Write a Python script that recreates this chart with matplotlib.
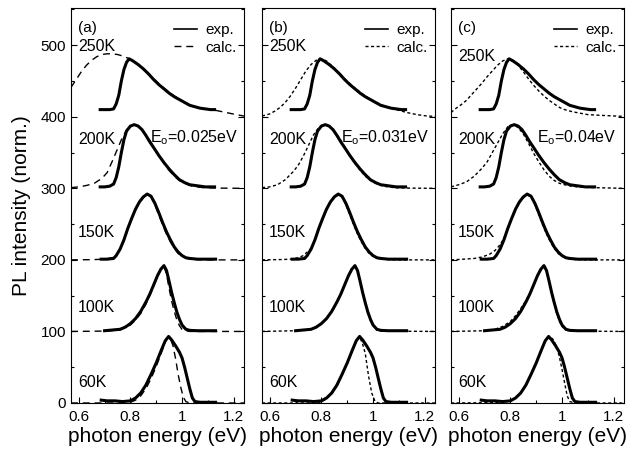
import matplotlib
matplotlib.use('Agg')
import matplotlib.pyplot as plt
from matplotlib.lines import Line2D
from matplotlib.ticker import MultipleLocator, FixedLocator, FuncFormatter

plt.rcParams['font.family'] = ['Liberation Sans', 'DejaVu Sans']
plt.rcParams['mathtext.fontset'] = 'custom'
plt.rcParams['mathtext.rm'] = 'Liberation Sans'

temps = ['60K', '100K', '150K', '200K', '250K']
offsets = [0, 100, 200, 300, 400]
panel_tags = ['(a)', '(b)', '(c)']
e0_labels = ['E$_\\mathregular{o}$=0.025eV', 'E$_\\mathregular{o}$=0.031eV', 'E$_\\mathregular{o}$=0.04eV']

# experimental spectra (same data in all three panels), intensity above baseline
e_exp_60 = [0.687, 0.71, 0.74, 0.77, 0.80, 0.82, 0.84, 0.86, 0.88, 0.90, 0.92, 0.935, 0.948, 0.96, 0.975, 0.99, 1.0, 1.01, 1.02, 1.03, 1.04, 1.05, 1.07, 1.13]
i_exp_60 = [4, 3, 3, 2, 3, 7, 14, 25, 40, 56, 74, 87, 93, 88, 80, 71, 63, 50, 35, 20, 7, 2, 1, 1]
e_exp_100 = [0.70, 0.73, 0.76, 0.78, 0.80, 0.82, 0.84, 0.86, 0.875, 0.89, 0.905, 0.918, 0.93, 0.94, 0.95, 0.96, 0.97, 0.98, 0.99, 1.0, 1.015, 1.03, 1.06, 1.13]
i_exp_100 = [1, 2, 3, 6, 11, 18, 28, 41, 52, 65, 78, 87, 92, 85, 70, 54, 40, 27, 17, 9, 3, 1.5, 1, 1]
e_exp_150 = [0.687, 0.71, 0.735, 0.745, 0.76, 0.775, 0.79, 0.805, 0.82, 0.835, 0.85, 0.865, 0.88, 0.895, 0.91, 0.925, 0.94, 0.955, 0.97, 0.985, 1.0, 1.015, 1.03, 1.06, 1.13]
i_exp_150 = [1, 1, 2, 6, 15, 28, 44, 58, 71, 81, 88, 92, 89, 79, 66, 52, 39, 28, 18, 11, 6, 3, 2, 1, 1]
e_exp_200 = [0.683, 0.70, 0.72, 0.735, 0.745, 0.755, 0.765, 0.775, 0.785, 0.80, 0.815, 0.83, 0.845, 0.86, 0.875, 0.89, 0.91, 0.93, 0.95, 0.97, 0.99, 1.01, 1.03, 1.05, 1.07, 1.09, 1.11, 1.126]
i_exp_200 = [2, 2, 3, 6, 15, 30, 50, 68, 80, 87, 89, 87, 82, 74, 65, 57, 46, 36, 27, 19, 12, 8, 5, 4, 3, 2, 2, 2]
e_exp_250 = [0.683, 0.70, 0.72, 0.735, 0.745, 0.755, 0.765, 0.775, 0.785, 0.795, 0.81, 0.83, 0.85, 0.87, 0.89, 0.91, 0.93, 0.95, 0.97, 0.99, 1.01, 1.03, 1.05, 1.07, 1.09, 1.11, 1.126]
i_exp_250 = [10, 10, 10, 11, 18, 30, 50, 66, 76, 81, 78, 73, 67, 60, 52, 45, 39, 33, 28, 24, 20, 16, 14, 12, 11, 10, 10]

# calculated spectra, panel (a) Eo=0.025eV
e_a_60 = [0.57, 0.78, 0.80, 0.82, 0.84, 0.86, 0.88, 0.90, 0.92, 0.935, 0.945, 0.955, 0.965, 0.975, 0.985, 0.995, 1.005, 1.015, 1.03, 1.24]
i_a_60 = [0, 0, 1, 4, 10, 20, 34, 51, 70, 85, 92, 90, 80, 62, 40, 22, 8, 2, 0, 0]
e_a_100 = [0.57, 0.70, 0.76, 0.80, 0.82, 0.84, 0.86, 0.875, 0.89, 0.905, 0.92, 0.93, 0.94, 0.95, 0.96, 0.97, 0.98, 0.99, 1.0, 1.01, 1.03, 1.24]
i_a_100 = [0, 0.5, 2, 9, 16, 25, 38, 50, 63, 77, 90, 91, 80, 60, 42, 28, 16, 8, 3, 1, 0, 0]
e_a_150 = [0.57, 0.65, 0.70, 0.73, 0.75, 0.76, 0.775, 0.79, 0.805, 0.82, 0.835, 0.85, 0.865, 0.88, 0.895, 0.91, 0.925, 0.94, 0.955, 0.97, 0.985, 1.0, 1.02, 1.05, 1.1, 1.24]
i_a_150 = [0, 0.3, 1, 3, 8, 14, 27, 43, 57, 70, 80, 87, 91, 88, 77, 63, 49, 36, 25, 16, 9, 5, 2, 0.5, 0, 0]
e_a_200 = [0.57, 0.60, 0.63, 0.66, 0.69, 0.71, 0.73, 0.75, 0.77, 0.79, 0.81, 0.83, 0.85, 0.87, 0.89, 0.91, 0.93, 0.95, 0.97, 0.99, 1.01, 1.04, 1.08, 1.14, 1.24]
i_a_200 = [1, 2, 4, 7, 14, 22, 38, 55, 72, 84, 89, 87, 80, 70, 58, 46, 35, 25, 17, 11, 7, 3, 1, 0.3, 0]
e_a_250 = [0.57, 0.59, 0.61, 0.63, 0.65, 0.67, 0.69, 0.71, 0.73, 0.75, 0.77, 0.79, 0.81, 0.85, 0.89, 0.93, 0.97, 1.01, 1.05, 1.09, 1.13, 1.17, 1.21, 1.24]
i_a_250 = [41, 52, 63, 72, 79, 84, 87, 88, 88, 87, 85, 82, 78, 67, 53, 40, 29, 20, 14, 11, 9, 6, 3, 1]

# panel (b) Eo=0.031eV
e_b_60 = [0.57, 0.78, 0.80, 0.82, 0.84, 0.86, 0.88, 0.90, 0.92, 0.935, 0.948, 0.96, 0.97, 0.983, 0.995, 1.008, 1.02, 1.24]
i_b_60 = [0, 0, 2, 6, 13, 24, 39, 55, 73, 86, 93, 82, 69, 37, 14, 2, 0, 0]
e_b_100 = [0.57, 0.70, 0.76, 0.80, 0.82, 0.84, 0.86, 0.875, 0.89, 0.905, 0.918, 0.93, 0.94, 0.95, 0.96, 0.97, 0.98, 0.99, 1.0, 1.015, 1.03, 1.24]
i_b_100 = [0, 1, 3, 11, 18, 28, 41, 52, 65, 78, 87, 91, 85, 70, 54, 39, 26, 15, 8, 2, 0.5, 0]
e_b_150 = [0.57, 0.65, 0.68, 0.71, 0.73, 0.745, 0.76, 0.775, 0.79, 0.805, 0.82, 0.835, 0.85, 0.865, 0.88, 0.895, 0.91, 0.925, 0.94, 0.955, 0.97, 0.985, 1.0, 1.02, 1.05, 1.1, 1.24]
i_b_150 = [0, 0.5, 1, 3, 6, 11, 16, 27, 43, 57, 70, 80, 87, 91, 88, 77, 63, 49, 36, 25, 16, 9, 5, 2, 0.5, 0, 0]
e_b_200 = [0.57, 0.60, 0.63, 0.66, 0.69, 0.71, 0.73, 0.75, 0.77, 0.79, 0.81, 0.83, 0.85, 0.87, 0.89, 0.91, 0.93, 0.95, 0.97, 0.99, 1.01, 1.04, 1.08, 1.14, 1.24]
i_b_200 = [1, 2, 5, 12, 23, 32, 45, 60, 75, 85, 89, 87, 80, 70, 58, 46, 35, 25, 17, 11, 7, 3, 1, 0.3, 0]
e_b_250 = [0.57, 0.60, 0.62, 0.64, 0.66, 0.68, 0.70, 0.72, 0.74, 0.76, 0.78, 0.80, 0.82, 0.85, 0.89, 0.93, 0.97, 1.01, 1.05, 1.09, 1.13, 1.17, 1.21, 1.24]
i_b_250 = [1, 4, 8, 13, 20, 29, 40, 52, 64, 73, 79, 81, 78, 68, 53, 40, 29, 20, 14, 10, 6, 3, 1, 0.5]

# panel (c) Eo=0.04eV
e_c_60 = [0.57, 0.76, 0.80, 0.82, 0.84, 0.86, 0.88, 0.90, 0.92, 0.935, 0.952, 0.965, 0.98, 0.99, 1.0, 1.01, 1.02, 1.03, 1.05, 1.24]
i_c_60 = [0, 0.5, 3, 7, 14, 25, 40, 56, 74, 87, 93, 89, 78, 64, 47, 28, 10, 2, 0, 0]
e_c_100 = [0.57, 0.70, 0.74, 0.77, 0.80, 0.82, 0.84, 0.86, 0.875, 0.89, 0.905, 0.918, 0.93, 0.94, 0.95, 0.96, 0.97, 0.98, 0.99, 1.0, 1.015, 1.03, 1.24]
i_c_100 = [0, 1, 3, 7, 14, 22, 32, 43, 53, 65, 78, 87, 91, 85, 70, 53, 38, 25, 14, 7, 2, 0.5, 0]
e_c_150 = [0.57, 0.62, 0.66, 0.69, 0.72, 0.74, 0.755, 0.77, 0.785, 0.805, 0.82, 0.835, 0.85, 0.865, 0.88, 0.895, 0.91, 0.925, 0.94, 0.955, 0.97, 0.985, 1.0, 1.02, 1.05, 1.1, 1.24]
i_c_150 = [0, 1, 2, 4, 8, 13, 19, 27, 38, 57, 70, 80, 87, 91, 88, 77, 63, 49, 36, 25, 16, 9, 5, 2, 0.5, 0, 0]
e_c_200 = [0.57, 0.60, 0.63, 0.66, 0.69, 0.71, 0.73, 0.75, 0.77, 0.79, 0.81, 0.83, 0.85, 0.87, 0.89, 0.91, 0.93, 0.95, 0.97, 0.99, 1.02, 1.06, 1.12, 1.24]
i_c_200 = [2, 5, 9, 17, 28, 37, 50, 63, 76, 86, 89, 85, 76, 63, 49, 37, 26, 17, 11, 7, 4, 2, 1, 0]
e_c_250 = [0.57, 0.59, 0.61, 0.63, 0.65, 0.67, 0.69, 0.71, 0.73, 0.75, 0.77, 0.79, 0.81, 0.83, 0.85, 0.87, 0.89, 0.91, 0.93, 0.95, 0.97, 0.99, 1.01, 1.04, 1.07, 1.10, 1.15, 1.24]
i_c_250 = [6, 12, 17, 23, 31, 39, 47, 56, 64, 72, 78, 81, 79, 72, 63, 53, 44, 36, 29, 23, 18, 13, 10, 7, 5, 3, 2, 0.5]

exp_curves = [(e_exp_60, i_exp_60), (e_exp_100, i_exp_100), (e_exp_150, i_exp_150),
              (e_exp_200, i_exp_200), (e_exp_250, i_exp_250)]
calc_curves = [
    [(e_a_60, i_a_60), (e_a_100, i_a_100), (e_a_150, i_a_150), (e_a_200, i_a_200), (e_a_250, i_a_250)],
    [(e_b_60, i_b_60), (e_b_100, i_b_100), (e_b_150, i_b_150), (e_b_200, i_b_200), (e_b_250, i_b_250)],
    [(e_c_60, i_c_60), (e_c_100, i_c_100), (e_c_150, i_c_150), (e_c_200, i_c_200), (e_c_250, i_c_250)],
]
dashes = [(5, 3.5), (2.2, 1.8), (2.2, 1.8)]
label_y = [29, 134, 238, 368, 498]
label_y_c = [29, 134, 238, 368, 484]
e0_x = [0.876, 0.876, 0.902]

fig = plt.figure(figsize=(6.26, 4.51), dpi=100)
lefts = [71 / 626, 262 / 626, 451 / 626]
bottom = 1 - 403 / 451
height = (403 - 8) / 451
width = 173 / 626

for p in range(3):
    ax = fig.add_axes([lefts[p], bottom, width, height])
    for k in range(5):
        e, i = exp_curves[k]
        ax.plot(e, [v + offsets[k] for v in i], color='black', lw=2.2, solid_joinstyle='round')
        e, i = calc_curves[p][k]
        ax.plot(e, [v + offsets[k] for v in i], color='black', lw=1.0, linestyle=(0, dashes[p]))
        ly = label_y_c[k] if p == 2 else label_y[k]
        ax.text(0.04, ly, temps[k], transform=ax.get_yaxis_transform(), fontsize=11.5,
                ha='left', va='center')
    ax.text(0.04, 0.95, panel_tags[p], transform=ax.transAxes, fontsize=11, ha='left', va='center')
    ax.text(e0_x[p], 371, e0_labels[p], fontsize=11.5, ha='left', va='center')

    handles = [Line2D([], [], color='black', lw=1.2),
               Line2D([], [], color='black', lw=1.0, linestyle=(0, dashes[p]))]
    ax.legend(handles, ['exp.', 'calc.'], loc='upper right', bbox_to_anchor=(0.99, 0.977),
              frameon=False, fontsize=11, handlelength=1.5, handletextpad=0.55,
              labelspacing=0.22, borderaxespad=0.2, borderpad=0.2)

    ax.set_xlim(0.57, 1.24)
    ax.set_ylim(0, 552)
    ax.xaxis.set_major_locator(FixedLocator([0.6, 0.8, 1.0, 1.2]))
    ax.xaxis.set_minor_locator(FixedLocator([0.7, 0.9, 1.1]))
    ax.xaxis.set_major_formatter(FuncFormatter(lambda v, pos: f'{v:g}'))
    ax.yaxis.set_major_locator(MultipleLocator(100))
    ax.yaxis.set_minor_locator(MultipleLocator(50))
    ax.tick_params(which='both', direction='in', left=True, right=True, top=False, labelsize=11)
    ax.tick_params(which='major', length=4, width=0.8)
    ax.tick_params(which='minor', length=2.5, width=0.8)
    ax.tick_params(axis='x', pad=5)
    for s in ax.spines.values():
        s.set_linewidth(0.8)
    ax.set_xlabel('photon energy (eV)', fontsize=15, labelpad=2)
    if p == 0:
        ax.set_ylabel('PL intensity (norm.)', fontsize=15, labelpad=7)
    else:
        ax.tick_params(labelleft=False)

fig.savefig('out.png', dpi=100)
